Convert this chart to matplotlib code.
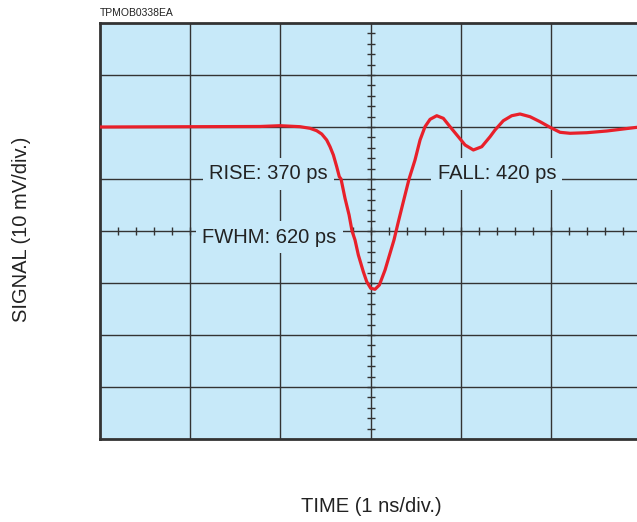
import numpy as np
import matplotlib.pyplot as plt

plt.rcParams['font.family'] = ['Liberation Sans', 'DejaVu Sans']

# signal trace (x in time div, y in signal div from bottom)
t_div = [0.0, 1.774, 1.996, 2.217, 2.328, 2.402, 2.458, 2.513, 2.550, 2.587,
         2.624, 2.653, 2.672, 2.716, 2.761, 2.794, 2.827, 2.864, 2.919, 2.957,
         3.001, 3.049, 3.097, 3.160, 3.215, 3.259, 3.304, 3.359, 3.426, 3.492,
         3.548, 3.603, 3.659, 3.733, 3.806, 3.880, 3.972, 4.047, 4.139, 4.232,
         4.324, 4.379, 4.471, 4.564, 4.656, 4.767, 4.878, 4.989, 5.100, 5.211,
         5.396, 5.618, 5.802, 5.953]
sig_div = [6.0, 6.01, 6.025, 6.006, 5.975, 5.929, 5.865, 5.75, 5.621, 5.462,
           5.237, 5.044, 5.0, 4.63, 4.31, 4.0, 3.827, 3.538, 3.217, 3.025,
           2.898, 2.879, 2.962, 3.25, 3.571, 3.827, 4.154, 4.538, 5.0, 5.365,
           5.75, 6.006, 6.148, 6.217, 6.167, 6.006, 5.813, 5.654, 5.558, 5.621,
           5.813, 5.942, 6.121, 6.217, 6.25, 6.198, 6.102, 5.994, 5.898, 5.879,
           5.890, 5.923, 5.962, 5.994]

labels = ["RISE: 370 ps", "FALL: 420 ps", "FWHM: 620 ps"]
label_x = [1.87, 4.40, 1.88]
label_y = [5.10, 5.10, 3.88]

bg = '#c7e9f9'
gridc = '#333333'

fig = plt.figure(figsize=(6.37, 5.22), dpi=100)
ax = fig.add_axes([100 / 637, 83 / 522, 537 / 637, 416 / 522])
ax.set_facecolor(bg)
ax.set_xlim(0, 5.953)
ax.set_ylim(0, 8)

# grid
for gx in range(1, 6):
    ax.axvline(gx, color=gridc, lw=1.0, zorder=1)
for gy in range(1, 8):
    ax.axhline(gy, color=gridc, lw=1.0, zorder=1)

# center graticule minor ticks
ty = np.arange(0.2, 8, 0.2)
ax.hlines(ty, 3 - 0.044, 3 + 0.044, color=gridc, lw=1.0, zorder=1)
tx = np.arange(0.2, 6, 0.2)
ax.vlines(tx, 4 - 0.077, 4 + 0.077, color=gridc, lw=1.0, zorder=1)

for s, x, y in zip(labels, label_x, label_y):
    ax.text(x, y, s, fontsize=14.5, color='#222222', ha='center', va='center',
            zorder=2, bbox=dict(facecolor=bg, edgecolor='none', pad=4.5))

ax.plot(t_div, sig_div, color='#e8202a', lw=2.3, solid_joinstyle='round',
        solid_capstyle='round', zorder=3)

ax.set_xticks([])
ax.set_yticks([])
for side in ['left', 'top', 'bottom']:
    ax.spines[side].set_color('#333333')
    ax.spines[side].set_linewidth(2.0)
ax.spines['right'].set_visible(False)

fig.text(100 / 637, 1 - 13 / 522, "TPMOB0338EA", fontsize=7.5, color='#222222',
         ha='left', va='center')
fig.text(22 / 637, 1 - 229 / 522, "SIGNAL (10 mV/div.)", fontsize=14.5,
         color='#222222', rotation=90, ha='center', va='center')
fig.text(371 / 637, 1 - 507 / 522, "TIME (1 ns/div.)", fontsize=14.5,
         color='#222222', ha='center', va='center')

fig.savefig('out.png', dpi=100)
